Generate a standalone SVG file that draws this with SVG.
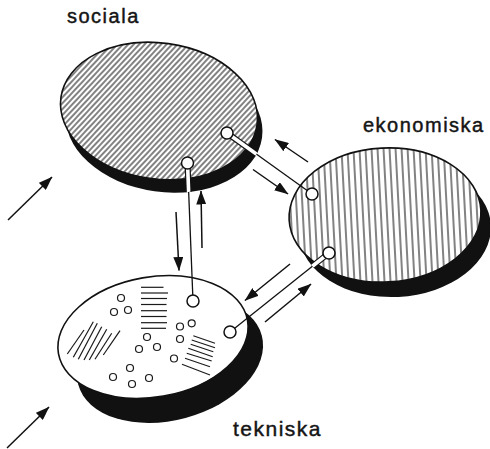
<svg xmlns="http://www.w3.org/2000/svg" width="490" height="449" viewBox="0 0 490 449">
  <style>
    .lbl { font-family: "Liberation Sans", Arial, Helvetica, sans-serif; font-size: 20px; letter-spacing: 1.5px; fill: #151515; stroke: #151515; stroke-width: 0.45px; }
    .shadow { fill: #111; stroke: none; }
    .outline { stroke: #111; stroke-width: 1.6; }
    .base { fill: #fff; stroke: none; }
    .mark { fill: none; stroke: #1a1a1a; stroke-width: 1.2; }
    .dots circle { fill: #fff; stroke: #1a1a1a; stroke-width: 1.2; }
    .conn { fill: none; stroke: #111; stroke-width: 1.3; }
    .stripB { fill: none; stroke: #111; stroke-width: 6; }
    .stripW { fill: none; stroke: #fff; stroke-width: 3.6; }
    .arrow { fill: none; stroke: #111; stroke-width: 1.5; marker-end: url(#ah); }
    .port { fill: #fff; stroke: #111; stroke-width: 1.5; }
  </style>
  <defs>
    <pattern id="diag" width="4" height="20" patternUnits="userSpaceOnUse" patternTransform="rotate(35)">
      <line x1="2" y1="0" x2="2" y2="20" stroke="#1a1a1a" stroke-width="1.1"/>
    </pattern>
    <pattern id="vert" width="6" height="20" patternUnits="userSpaceOnUse">
      <line x1="3" y1="0" x2="3" y2="20" stroke="#1a1a1a" stroke-width="1.1"/>
    </pattern>
    <marker id="ah" markerUnits="userSpaceOnUse" viewBox="0 0 14 10" markerWidth="14" markerHeight="10" refX="13.5" refY="5" orient="auto">
      <path d="M0,0 L14,5 L0,10 z" fill="#111"/>
    </marker>
    <clipPath id="clipTop">
      <ellipse cx="159" cy="111" rx="99" ry="68" transform="rotate(8 159 111)"/>
      <ellipse cx="164" cy="124" rx="99" ry="68" transform="rotate(8 164 124)"/>
    </clipPath>
    <clipPath id="clipRight">
      <ellipse cx="385" cy="215" rx="96" ry="67" transform="rotate(-3 385 215)"/>
      <ellipse cx="395" cy="230" rx="96" ry="67" transform="rotate(-3 395 230)"/>
    </clipPath>
  </defs>

  <rect width="490" height="449" fill="#fff"/>

  <g id="node-sociala">
    <ellipse class="shadow" cx="164" cy="124" rx="99" ry="68" transform="rotate(8 164 124)"/>
    <ellipse class="base" cx="159" cy="111" rx="99" ry="68" transform="rotate(8 159 111)"/>
    <ellipse class="outline" fill="url(#diag)" cx="159" cy="111" rx="99" ry="68" transform="rotate(8 159 111)"/>
    <text class="lbl" x="67" y="23">sociala</text>
  </g>

  <g id="node-ekonomiska">
    <ellipse class="shadow" cx="395" cy="230" rx="96" ry="67" transform="rotate(-3 395 230)"/>
    <ellipse class="base" cx="385" cy="215" rx="96" ry="67" transform="rotate(-3 385 215)"/>
    <ellipse class="outline" fill="url(#vert)" cx="385" cy="215" rx="96" ry="67" transform="rotate(-3 385 215)"/>
    <text class="lbl" x="363" y="132">ekonomiska</text>
  </g>

  <g id="node-tekniska">
    <ellipse class="shadow" cx="170" cy="360" rx="95" ry="60" transform="rotate(-15 170 360)"/>
    <ellipse class="outline" fill="#fff" cx="153" cy="337" rx="96" ry="60" transform="rotate(-10 153 337)"/>
    <g class="mark">
      <line x1="141" y1="287.3" x2="163.5" y2="287.3"/>
      <line x1="141" y1="293" x2="168" y2="293"/>
      <line x1="141" y1="298.5" x2="167" y2="298.5"/>
      <line x1="141" y1="304.5" x2="166.5" y2="304.5"/>
      <line x1="141" y1="310.7" x2="167" y2="310.7"/>
      <line x1="141" y1="316.5" x2="166.5" y2="316.5"/>
      <line x1="141" y1="322.7" x2="167" y2="322.7"/>
      <line x1="141" y1="328.3" x2="166" y2="328.3"/>

      <line x1="67.3" y1="354" x2="84" y2="330"/>
      <line x1="73.3" y1="357.3" x2="93.3" y2="321.7"/>
      <line x1="78.3" y1="359.3" x2="97.3" y2="323.3"/>
      <line x1="84" y1="360" x2="101.7" y2="326.7"/>
      <line x1="89.3" y1="360" x2="106.7" y2="329.3"/>
      <line x1="95" y1="359.3" x2="111.7" y2="333.3"/>
      <line x1="103.3" y1="355" x2="120" y2="330.7"/>

      <line x1="193.3" y1="335.7" x2="215" y2="343.3"/>
      <line x1="191.7" y1="340" x2="215" y2="347.7"/>
      <line x1="190.7" y1="344.3" x2="213.3" y2="351.7"/>
      <line x1="188.3" y1="348.3" x2="212.7" y2="356.7"/>
      <line x1="186.7" y1="353.3" x2="211.7" y2="361"/>
      <line x1="185" y1="358.3" x2="210" y2="366.7"/>
      <line x1="182" y1="364.3" x2="210" y2="375"/>
    </g>
    <g class="dots">
      <circle cx="121" cy="298" r="3.5"/>
      <circle cx="114" cy="312" r="3.5"/>
      <circle cx="128" cy="310" r="3.5"/>
      <circle cx="147" cy="337" r="3.5"/>
      <circle cx="139" cy="349" r="3.5"/>
      <circle cx="157" cy="347" r="3.5"/>
      <circle cx="180" cy="326.5" r="3.5"/>
      <circle cx="191.7" cy="323.3" r="3.5"/>
      <circle cx="180" cy="339" r="3.5"/>
      <circle cx="174" cy="358.5" r="3.5"/>
      <circle cx="130" cy="368" r="3.5"/>
      <circle cx="113" cy="377" r="3.5"/>
      <circle cx="132" cy="384" r="3.5"/>
      <circle cx="149" cy="378" r="3.5"/>
    </g>
    <text class="lbl" x="233" y="436" style="font-size:21px">tekniska</text>
  </g>

  <g id="connectors">
    <!-- sociala - ekonomiska -->
    <line class="conn" x1="227" y1="133" x2="312" y2="194"/>
    <g clip-path="url(#clipTop)">
      <line class="stripB" x1="227" y1="133" x2="312" y2="194"/>
      <line class="stripW" x1="227" y1="133" x2="312" y2="194"/>
    </g>
    <!-- sociala - tekniska -->
    <line class="conn" x1="187.5" y1="163" x2="193" y2="301"/>
    <g clip-path="url(#clipTop)">
      <line class="stripB" x1="187.5" y1="163" x2="193" y2="301"/>
      <line class="stripW" x1="187.5" y1="163" x2="193" y2="301"/>
    </g>
    <!-- ekonomiska - tekniska -->
    <line class="conn" x1="329" y1="253" x2="230" y2="332"/>
    <g clip-path="url(#clipRight)">
      <line class="stripB" x1="329" y1="253" x2="230" y2="332"/>
      <line class="stripW" x1="329" y1="253" x2="230" y2="332"/>
    </g>

    <circle class="port" cx="227" cy="133" r="6"/>
    <circle class="port" cx="187.5" cy="163" r="6"/>
    <circle class="port" cx="312" cy="194" r="6"/>
    <circle class="port" cx="329" cy="253" r="6"/>
    <circle class="port" cx="193" cy="301" r="6"/>
    <circle class="port" cx="230" cy="332" r="6"/>

    <line class="arrow" x1="308" y1="162" x2="275" y2="139.5"/>
    <line class="arrow" x1="253" y1="169.5" x2="288" y2="194"/>
    <line class="arrow" x1="176" y1="212" x2="179" y2="270.5"/>
    <line class="arrow" x1="202" y1="248" x2="201" y2="191"/>
    <line class="arrow" x1="290" y1="264" x2="245" y2="300.5"/>
    <line class="arrow" x1="265" y1="322" x2="311" y2="284"/>
    <line class="arrow" x1="8" y1="220" x2="52" y2="177"/>
    <line class="arrow" x1="7" y1="448" x2="49" y2="407"/>
  </g>
</svg>
